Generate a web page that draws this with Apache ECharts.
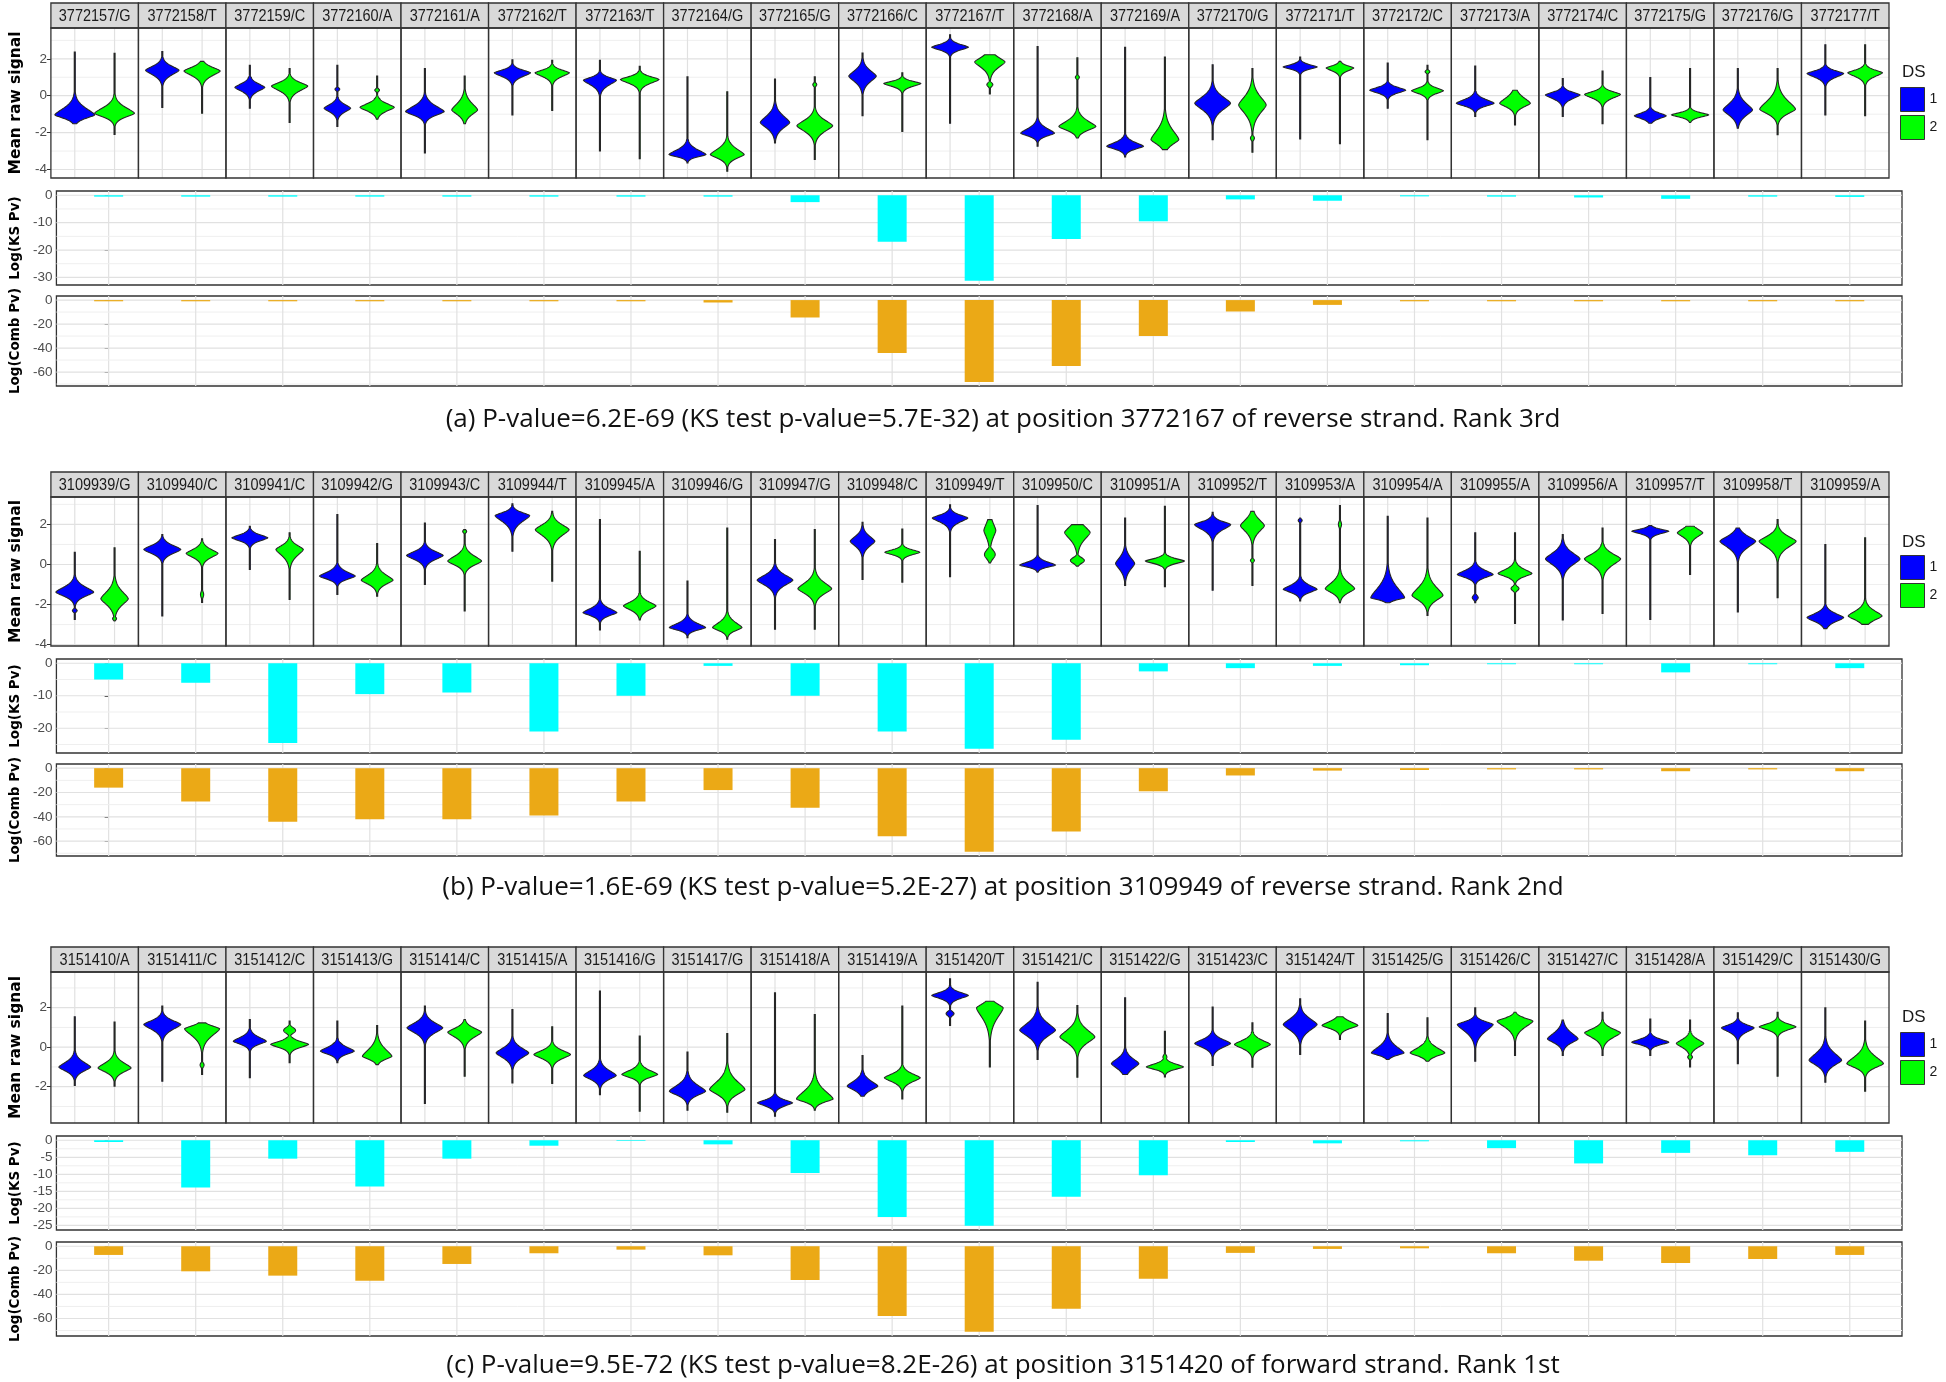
<!DOCTYPE html>
<html><head><meta charset="utf-8">
<script src="https://cdn.jsdelivr.net/npm/echarts@6/dist/echarts.min.js"></script>
<style>html,body{margin:0;padding:0;background:#fff}#c{width:1946px;height:1382px}</style>
</head><body><div id="c"></div>
<script>
// ---------------- DATA ----------------
const aLabels = ['3772157/G','3772158/T','3772159/C','3772160/A','3772161/A','3772162/T','3772163/T','3772164/G','3772165/G','3772166/C','3772167/T','3772168/A','3772169/A','3772170/G','3772171/T','3772172/C','3772173/A','3772174/C','3772175/G','3772176/G','3772177/T'];
const bLabels = ['3109939/G','3109940/C','3109941/C','3109942/G','3109943/C','3109944/T','3109945/A','3109946/G','3109947/G','3109948/C','3109949/T','3109950/C','3109951/A','3109952/T','3109953/A','3109954/A','3109955/A','3109956/A','3109957/T','3109958/T','3109959/A'];
const cLabels = ['3151410/A','3151411/C','3151412/C','3151413/G','3151414/C','3151415/A','3151416/G','3151417/G','3151418/A','3151419/A','3151420/T','3151421/C','3151422/G','3151423/C','3151424/T','3151425/G','3151426/C','3151427/C','3151428/A','3151429/C','3151430/G'];

// log10 p-values
const aKS   = [-0.5,-0.5,-0.5,-0.5,-0.5,-0.5,-0.5,-0.5,-2.5,-17,-31.2,-16,-9.5,-1.5,-2,-0.4,-0.5,-0.8,-1.3,-0.5,-0.6];
const aComb = [-1,-1,-1,-1,-1,-1,-1,-2,-14.5,-44,-68.2,-55,-30,-9.5,-4,-1,-1,-1,-1,-1,-1];
const bKS   = [-5,-6,-24.5,-9.5,-9,-21,-10,-0.8,-10,-21,-26.3,-23.5,-2.5,-1.5,-0.8,-0.6,-0.3,-0.3,-2.8,-0.3,-1.5];
const bComb = [-16,-27.5,-44,-42,-42,-39,-27.5,-18,-32.5,-56,-68.8,-52,-19,-6,-2,-1.5,-1,-1,-2.5,-1,-2.5];
const cKS   = [-0.5,-13.9,-5.4,-13.6,-5.4,-1.6,-0.2,-1.2,-9.6,-22.5,-25.1,-16.6,-10.3,-0.5,-0.9,-0.3,-2.3,-6.8,-3.7,-4.4,-3.4];
const cComb = [-7.2,-20.8,-24.4,-28.6,-14.7,-5.8,-2.8,-7.5,-28,-58,-71,-52,-27,-5.5,-2.2,-1.7,-5.8,-12,-13.9,-10.6,-7.2];

// violin summaries: [min, max, mode, spreadUp, spreadDown, width, bumps[[y, width, spread]]]
const aDS1 = [[-1.52,2.36,-1.04,0.35,0.18,1.0],[-0.63,2.4,1.38,0.22,0.25,0.84],[-0.68,1.65,0.45,0.2,0.2,0.75],[-1.67,1.65,-0.68,0.2,0.2,0.67,[[0.35,0.12,0.1]]],[-3.1,1.47,-0.86,0.3,0.2,0.97],[-1.04,1.95,1.24,0.15,0.2,0.91],[-3.0,1.92,0.84,0.15,0.25,0.83],[-3.64,1.02,-3.19,0.25,0.12,0.93],[-2.56,0.9,-1.45,0.35,0.3,0.74],[-1.09,2.31,1.06,0.3,0.3,0.69],[-1.49,3.3,2.63,0.15,0.15,0.92],[-2.74,2.67,-2.03,0.25,0.15,0.85],[-3.32,2.63,-2.74,0.2,0.15,0.92],[-2.38,1.68,-0.41,0.35,0.35,0.9],[-2.35,2.1,1.56,0.12,0.12,0.85],[-0.68,1.77,0.3,0.15,0.15,0.9],[-1.13,1.61,-0.41,0.2,0.15,0.95],[-1.13,0.93,0.04,0.15,0.2,0.87],[-1.49,0.99,-1.09,0.15,0.15,0.8],[-1.76,1.47,-0.77,0.35,0.3,0.74],[-1.04,2.76,1.2,0.15,0.2,0.92]];
const aDS2 = [[-2.1,2.3,-0.95,0.3,0.2,1.0],[-0.95,1.86,1.34,0.2,0.25,0.91],[-1.45,1.47,0.52,0.2,0.25,0.91],[-1.27,1.06,-0.63,0.2,0.2,0.86,[[0.3,0.12,0.1]]],[-1.52,1.06,-0.77,0.35,0.25,0.65],[-0.8,1.92,1.24,0.15,0.2,0.86],[-3.42,1.6,0.88,0.15,0.2,0.97],[-4.09,0.21,-3.19,0.3,0.2,0.85],[-3.46,1.02,-1.63,0.3,0.3,0.9,[[0.6,0.1,0.12]]],[-1.94,1.24,0.66,0.12,0.15,0.93],[0.09,2.22,1.83,0.25,0.3,0.76,[[0.6,0.15,0.15]]],[-2.29,2.06,-1.67,0.3,0.2,0.93,[[1.0,0.1,0.12]]],[-2.92,2.1,-2.38,0.5,0.25,0.7],[-3.06,1.47,-0.5,0.45,0.45,0.69,[[-2.3,0.1,0.15]]],[-2.6,1.86,1.5,0.12,0.15,0.69],[-2.38,1.65,0.27,0.15,0.15,0.8,[[1.3,0.12,0.1]]],[-1.58,0.3,-0.41,0.3,0.2,0.77],[-1.52,1.33,0.07,0.15,0.2,0.9],[-1.45,1.47,-1.04,0.12,0.12,0.93],[-2.11,1.47,-0.73,0.45,0.25,0.9],[-1.09,2.76,1.24,0.15,0.2,0.87]];
const bDS1 = [[-2.74,0.61,-1.38,0.25,0.2,0.95,[[-2.3,0.12,0.1]]],[-2.57,1.49,0.75,0.2,0.2,0.93],[-0.25,1.9,1.33,0.15,0.15,0.9],[-1.49,2.49,-0.58,0.2,0.15,0.9],[-1.0,2.07,0.45,0.2,0.2,0.92],[0.66,3.03,2.44,0.15,0.3,0.87],[-3.27,2.24,-2.4,0.2,0.15,0.85],[-3.65,-0.83,-3.15,0.2,0.12,0.91],[-3.23,1.24,-0.78,0.25,0.25,0.9],[-0.75,2.1,1.16,0.25,0.25,0.62],[-0.61,2.98,2.32,0.15,0.2,0.89],[-0.38,2.94,-0.03,0.15,0.1,0.9],[-1.04,2.32,0.05,0.3,0.3,0.48],[-1.28,2.6,1.99,0.15,0.25,0.91],[-1.82,2.32,-1.24,0.2,0.15,0.85,[[2.2,0.1,0.1]]],[-1.91,2.4,-1.66,0.5,0.1,0.85],[-1.91,1.58,-0.5,0.2,0.15,0.9,[[-1.65,0.15,0.15]]],[-2.77,1.49,0.28,0.3,0.3,0.87],[-2.74,1.94,1.66,0.1,0.12,0.92],[-2.37,1.82,1.16,0.25,0.3,0.9],[-3.2,1.0,-2.65,0.2,0.2,0.92]];
const bDS2 = [[-2.82,0.83,-1.71,0.35,0.3,0.69,[[-2.7,0.1,0.1]]],[-1.9,1.28,0.55,0.2,0.2,0.8,[[-1.5,0.08,0.2]]],[-1.74,1.58,0.75,0.2,0.3,0.69],[-1.58,1.04,-0.78,0.25,0.2,0.8],[-2.32,1.74,0.17,0.25,0.2,0.85,[[1.65,0.1,0.1]]],[-0.83,2.65,1.74,0.25,0.3,0.85],[-2.77,0.66,-2.07,0.2,0.2,0.82],[-3.73,1.82,-3.15,0.25,0.15,0.74],[-3.23,1.74,-1.21,0.3,0.25,0.85],[-0.88,1.77,0.61,0.12,0.12,0.88],[0.08,2.24,1.7,0.35,0.35,0.3,[[0.5,0.27,0.3]]],[-0.08,1.99,1.6,0.3,0.35,0.64,[[0.2,0.35,0.2]]],[-1.11,2.9,0.17,0.12,0.12,0.98],[-1.04,2.65,1.94,0.3,0.3,0.6,[[0.2,0.1,0.1]]],[-1.91,2.94,-1.21,0.3,0.2,0.74,[[2.0,0.08,0.2]]],[-2.54,2.32,-1.54,0.4,0.25,0.78],[-2.94,1.58,-0.45,0.2,0.15,0.85,[[-1.2,0.2,0.15]]],[-2.44,1.82,0.28,0.25,0.3,0.91],[-0.5,1.91,1.58,0.2,0.2,0.64],[-1.66,2.24,1.16,0.25,0.3,0.93],[-2.99,1.33,-2.57,0.25,0.2,0.85]];
const cDS1 = [[-1.94,1.54,-1.01,0.25,0.2,0.8],[-1.72,2.08,1.15,0.2,0.25,0.93],[-1.55,1.4,0.3,0.2,0.15,0.83],[-0.79,1.32,-0.2,0.2,0.15,0.85],[-2.85,2.08,0.98,0.25,0.25,0.9],[-1.81,1.91,-0.29,0.25,0.25,0.82],[-2.4,2.84,-1.43,0.25,0.2,0.82],[-3.19,-0.25,-2.23,0.3,0.2,0.91],[-3.49,2.75,-2.82,0.15,0.15,0.88],[-2.48,-0.42,-1.97,0.25,0.2,0.77],[1.1,3.46,2.62,0.15,0.15,0.92,[[1.7,0.2,0.15]]],[-0.62,3.29,0.86,0.35,0.3,0.9],[-1.38,2.5,-0.83,0.25,0.25,0.69],[-0.93,2.03,0.19,0.2,0.2,0.9],[-0.37,2.45,1.15,0.3,0.3,0.85],[-0.62,1.7,-0.29,0.3,0.12,0.82],[-0.71,1.99,1.15,0.15,0.35,0.9],[-0.42,1.37,0.42,0.3,0.2,0.77],[-0.42,1.43,0.25,0.15,0.12,0.93],[-0.83,1.74,0.98,0.15,0.2,0.82],[-1.77,1.99,-0.66,0.35,0.25,0.82]];
const cDS2 = [[-1.97,1.27,-1.05,0.25,0.2,0.83],[-1.38,1.23,0.93,0.15,0.35,0.88,[[-0.9,0.1,0.15]]],[-0.79,1.32,0.14,0.15,0.15,0.95,[[0.85,0.3,0.2]]],[-0.88,1.1,-0.46,0.35,0.15,0.74],[-1.47,1.4,0.76,0.2,0.25,0.85],[-1.84,1.03,-0.37,0.2,0.2,0.92],[-3.24,0.56,-1.38,0.2,0.15,0.9],[-3.29,0.69,-2.14,0.4,0.25,0.89],[-3.19,1.65,-2.62,0.4,0.15,0.92],[-2.62,2.08,-1.55,0.2,0.2,0.9],[-1.0,2.33,1.99,0.2,0.5,0.67],[-1.52,2.11,0.52,0.35,0.3,0.88],[-1.5,0.81,-1.0,0.15,0.12,0.93,[[-0.5,0.1,0.15]]],[-1.01,1.23,0.14,0.2,0.2,0.9],[0.39,1.54,1.1,0.2,0.15,0.9],[-0.71,1.49,-0.29,0.25,0.15,0.87],[-0.42,1.77,1.32,0.15,0.3,0.9],[-0.42,1.77,0.73,0.2,0.25,0.9],[-1.0,1.37,0.19,0.2,0.2,0.69,[[-0.5,0.12,0.12]]],[-1.47,1.77,1.03,0.15,0.15,0.92],[-2.23,1.32,-0.83,0.35,0.2,0.92]];

// tick labels
const vioTicksAB = [-4,-2,0,2];
const vioTicksC = [-2,0,2];
const aKSTicks = [0,-10,-20,-30];
const bKSTicks = [0,-10,-20];
const cKSTicks = [0,-5,-10,-15,-20,-25];
const combTicks = [0,-20,-40,-60];
const captions = [
  '(a) P-value=6.2E-69 (KS test p-value=5.7E-32) at position 3772167 of reverse strand. Rank 3rd',
  '(b) P-value=1.6E-69 (KS test p-value=5.2E-27) at position 3109949 of reverse strand. Rank 2nd',
  '(c) P-value=9.5E-72 (KS test p-value=8.2E-26) at position 3151420 of forward strand. Rank 1st'
];

// ---------------- LAYOUT / STYLE ----------------
const L = {
  vLeft: 47, vWidth: 1842, bLeft: 54, bWidth: 1848, HH: 25,
  panels: [
    {vTop: 28, vH: 150, kTop: 191, kH: 94, cTop: 296, cH: 90, cap: 420, legTop: 87, dsY: 72},
    {vTop: 497, vH: 149, kTop: 659, kH: 94, cTop: 764, cH: 92, cap: 888, legTop: 555, dsY: 542},
    {vTop: 972, vH: 151, kTop: 1136, kH: 94, cTop: 1242, cH: 94, cap: 1366, legTop: 1032, dsY: 1017}
  ]
};
const SHAPE_SCALE = 1.5, SHAPE_POW = 1.5;
const BLUE = '#0000ff', GREEN = '#00ff00', CYAN = '#00ffff', ORANGE = '#eba916';
const GRID_MAJ = '#e1e1e1', GRID_MIN = '#efefef', FRAME = '#333333';

const P = [
  {labels: aLabels, ks: aKS, comb: aComb, d1: aDS1, d2: aDS2, vt: vioTicksAB, kt: aKSTicks},
  {labels: bLabels, ks: bKS, comb: bComb, d1: bDS1, d2: bDS2, vt: vioTicksAB, kt: bKSTicks},
  {labels: cLabels, ks: cKS, comb: cComb, d1: cDS1, d2: cDS2, vt: vioTicksC, kt: cKSTicks}
];

function expandRange(lo, hi) { const r = hi - lo; return [lo - 0.05 * r, hi + 0.05 * r]; }
function minorsOf(ticks, lo, hi) {
  const s = [...ticks].sort((a,b)=>a-b); const step = s[1]-s[0]; const out = [];
  for (let v = s[0] - step/2; v <= s[s.length-1] + step; v += step) if (v > lo && v < hi) out.push(v);
  return out;
}

const grids = [], xAxes = [], yAxes = [], series = [], legends = [], graphics = [];
const OFF = [0.6/2.2, 1.6/2.2];

P.forEach((p, pi) => {
  const lay = L.panels[pi];
  const n = p.labels.length;
  let vlo = Infinity, vhi = -Infinity;
  p.d1.concat(p.d2).forEach(v => { vlo = Math.min(vlo, v[0]); vhi = Math.max(vhi, v[1]); });
  const [vMin, vMax] = expandRange(vlo, vhi);
  const kMin0 = Math.min(0, ...p.ks), cMin0 = Math.min(0, ...p.comb);
  const [kMin, kMax] = expandRange(kMin0, 0);
  const [cMin, cMax] = expandRange(cMin0, 0);
  const gi = pi * 3;

  grids.push({left: L.vLeft, width: L.vWidth, top: lay.vTop, height: lay.vH, show: true, backgroundColor: '#fff', borderWidth: 0});
  grids.push({left: L.bLeft, width: L.bWidth, top: lay.kTop, height: lay.kH, show: true, backgroundColor: '#fff', borderColor: FRAME, borderWidth: 1.3});
  grids.push({left: L.bLeft, width: L.bWidth, top: lay.cTop, height: lay.cH, show: true, backgroundColor: '#fff', borderColor: FRAME, borderWidth: 1.3});

  xAxes.push({gridIndex: gi, type: 'value', min: 0, max: n, show: false});
  xAxes.push({gridIndex: gi+1, type: 'value', min: -0.6, max: n - 1 + 0.6, show: false});
  xAxes.push({gridIndex: gi+2, type: 'value', min: -0.6, max: n - 1 + 0.6, show: false});

  const yCommon = (ticks, name, nameSize, gap) => ({
    type: 'value', axisLine: {show: false},
    axisTick: {show: true, customValues: ticks, length: 4, lineStyle: {color: '#333', width: 1}},
    axisLabel: {customValues: ticks, color: '#4d4d4d', fontSize: 13.5, fontFamily: 'Liberation Sans', margin: 4},
    splitLine: {show: false},
    name, nameLocation: 'middle', nameGap: gap, nameRotate: 90,
    nameTextStyle: {fontWeight: 'bold', fontSize: nameSize, fontFamily: 'DejaVu Sans', color: '#000'}
  });
  yAxes.push(Object.assign(yCommon(p.vt, 'Mean raw signal', 15.5, 26), {gridIndex: gi, min: vMin, max: vMax}));
  yAxes.push(Object.assign(yCommon(p.kt, 'Log(KS Pv)', 13.5, 30), {gridIndex: gi+1, min: kMin, max: kMax}));
  yAxes.push(Object.assign(yCommon(combTicks, 'Log(Comb Pv)', 13.5, 30), {gridIndex: gi+2, min: cMin, max: cMax}));

  // background grid for facets
  const vMaj = p.vt, vMinr = minorsOf(p.vt, vMin, vMax);
  series.push({
    type: 'custom', xAxisIndex: gi, yAxisIndex: gi, z: 1, silent: true, clip: false,
    data: p.labels.map((l, i) => [i, vMin]),
    renderItem: (params, api) => {
      const i = params.dataIndex; const ch = [];
      const xl = api.coord([i, 0])[0], xr = api.coord([i+1, 0])[0];
      const yt = api.coord([0, vMax])[1], yb = api.coord([0, vMin])[1];
      vMinr.forEach(v => { const y = api.coord([0, v])[1]; ch.push({type:'line', shape:{x1:xl,y1:y,x2:xr,y2:y}, style:{stroke:GRID_MIN, lineWidth:1}}); });
      vMaj.forEach(v => { const y = api.coord([0, v])[1]; ch.push({type:'line', shape:{x1:xl,y1:y,x2:xr,y2:y}, style:{stroke:GRID_MAJ, lineWidth:1.2}}); });
      OFF.forEach(o => { const x = api.coord([i+o, 0])[0]; ch.push({type:'line', shape:{x1:x,y1:yt,x2:x,y2:yb}, style:{stroke:GRID_MAJ, lineWidth:1.2}}); });
      return {type:'group', children: ch};
    }
  });

  // violins
  [[p.d1, BLUE, '1', 0], [p.d2, GREEN, '2', 1]].forEach(([arr, color, name, k]) => {
    series.push({
      type: 'custom', name, xAxisIndex: gi, yAxisIndex: gi, z: 3, clip: false,
      itemStyle: {color, borderColor: '#333', borderWidth: 1},
      data: arr.map((v, i) => [i + OFF[k], v[2]]),
      renderItem: (params, api) => {
        const i = params.dataIndex; const v = arr[i];
        const [lo, hi, c, su, sd, w, bumps] = v;
        const x = i + OFF[k];
        const cx = api.coord([x, c])[0];
        const unitPx = api.size([1/2.2, 0])[0];
        const halfMax = w * unitPx / 2;
        const ys = [];
        const N = 160;
        for (let s = 0; s <= N; s++) ys.push(lo + (hi - lo) * s / N);
        ys.push(c); ys.sort((a, b) => a - b);
        const right = [], left = [];
        ys.forEach(y => {
          const d = y - c; const s = (d >= 0 ? su : sd) * SHAPE_SCALE;
          let f = Math.exp(-Math.pow(Math.abs(d) / s, SHAPE_POW));
          if (bumps) bumps.forEach(b => {
            const g = (b[1] / w) * Math.exp(-Math.pow((y - b[0]) / (b[2] || 0.12), 2));
            if (g > f) f = g;
          });
          const hw = Math.max(0.5, halfMax * f);
          const py = api.coord([x, y])[1];
          right.push([cx + hw, py]); left.push([cx - hw, py]);
        });
        return {type: 'polygon', shape: {points: right.concat(left.reverse())},
          style: {fill: color, stroke: '#262626', lineWidth: 1.1}};
      }
    });
  });

  // facet frames and strips
  series.push({
    type: 'custom', xAxisIndex: gi, yAxisIndex: gi, z: 5, silent: true, clip: false,
    data: p.labels.map((l, i) => [i, vMax]),
    renderItem: (params, api) => {
      const i = params.dataIndex;
      const p0 = api.coord([i, vMax]), p1 = api.coord([i+1, vMin]);
      const w = p1[0] - p0[0], h = p1[1] - p0[1];
      return {type: 'group', children: [
        {type: 'rect', shape: {x: p0[0], y: p0[1] - L.HH, width: w, height: L.HH}, style: {fill: '#d9d9d9', stroke: FRAME, lineWidth: 1.3}},
        {type: 'text', x: p0[0] + w/2, y: p0[1] - L.HH/2 + 1, scaleY: 1.2,
          style: {text: p.labels[i], x: 0, y: 0, align: 'center', verticalAlign: 'middle', textAlign: 'center', textVerticalAlign: 'middle',
          fontSize: 14.5, fontFamily: 'Liberation Sans', fill: '#1a1a1a'}},
        {type: 'rect', shape: {x: p0[0], y: p0[1], width: w, height: h}, style: {fill: 'none', stroke: FRAME, lineWidth: 1.3}}
      ]};
    }
  });

  // bar panels
  [[p.ks, p.kt, kMin, kMax, CYAN, gi+1], [p.comb, combTicks, cMin, cMax, ORANGE, gi+2]].forEach(([vals, ticks, mn, mx, color, ax]) => {
    const minr = minorsOf(ticks, mn, mx);
    series.push({
      type: 'custom', xAxisIndex: ax, yAxisIndex: ax, z: 1, silent: true, clip: true,
      data: vals.map((v, i) => [i, 0]),
      renderItem: (params, api) => {
        const i = params.dataIndex; const ch = [];
        const x = api.coord([i, 0])[0];
        const yt = api.coord([0, mx])[1], yb = api.coord([0, mn])[1];
        ch.push({type:'line', shape:{x1:x,y1:yt,x2:x,y2:yb}, style:{stroke:GRID_MAJ, lineWidth:1.2}});
        if (i === 0) {
          const xl = api.coord([-0.6, 0])[0], xr = api.coord([vals.length - 0.4, 0])[0];
          minr.forEach(v => { const y = api.coord([0, v])[1]; ch.push({type:'line', shape:{x1:xl,y1:y,x2:xr,y2:y}, style:{stroke:GRID_MIN, lineWidth:1}}); });
          ticks.forEach(v => { const y = api.coord([0, v])[1]; ch.push({type:'line', shape:{x1:xl,y1:y,x2:xr,y2:y}, style:{stroke:GRID_MAJ, lineWidth:1.2}}); });
        }
        return {type:'group', children: ch};
      }
    });
    series.push({
      type: 'bar', xAxisIndex: ax, yAxisIndex: ax, z: 3, barWidth: 29,
      itemStyle: {color}, data: vals.map((v, i) => [i, v])
    });
  });

  legends.push({
    orient: 'vertical', left: 1900, top: lay.legTop, itemWidth: 24, itemHeight: 24, itemGap: 3, padding: 0,
    icon: 'rect', selectedMode: false, data: ['1', '2'],
    itemStyle: {borderColor: '#333', borderWidth: 1},
    textStyle: {fontSize: 14, color: '#1a1a1a', fontFamily: 'Liberation Sans'}
  });
  graphics.push({type: 'text', x: 1902, y: lay.dsY, style: {text: 'DS', fontSize: 17, fontFamily: 'Liberation Sans', fill: '#1a1a1a', verticalAlign: 'middle', textVerticalAlign: 'middle'}});
  graphics.push({type: 'text', x: 1003, y: lay.cap, style: {text: captions[pi], fontSize: 26, fontFamily: '"Open Sans"', fill: '#111', align: 'center', textAlign: 'center', verticalAlign: 'middle', textVerticalAlign: 'middle'}});
});

const chart = echarts.init(document.getElementById('c'), null, {renderer: 'canvas'});
chart.setOption({
  animation: false,
  backgroundColor: '#fff',
  grid: grids, xAxis: xAxes, yAxis: yAxes, series,
  legend: legends,
  graphic: {elements: graphics}
});
</script>
</body></html>
